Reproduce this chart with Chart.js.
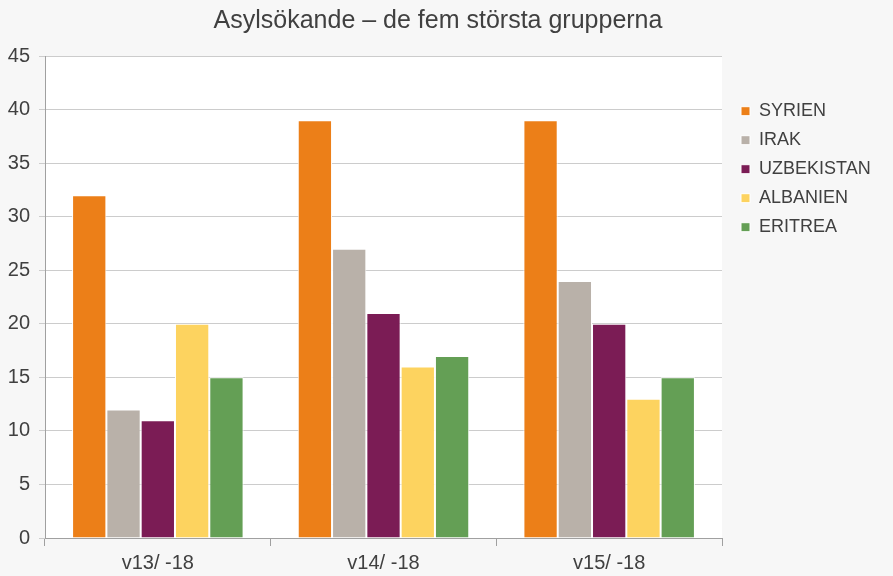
<!DOCTYPE html>
<html>
<head>
<meta charset="utf-8">
<script src="https://cdn.jsdelivr.net/npm/chart.js@4/dist/chart.umd.min.js"></script>
<style>
  html, body { margin: 0; padding: 0; background: #f7f7f7; }
  #wrap { width: 893px; height: 576px; }
</style>
</head>
<body>
<div id="wrap"><canvas id="chart" width="893" height="576"></canvas></div>
<script>
const categories = ['v13/ -18', 'v14/ -18', 'v15/ -18'];
const seriesNames = ['SYRIEN', 'IRAK', 'UZBEKISTAN', 'ALBANIEN', 'ERITREA'];
const syrien = [32, 39, 39];
const irak = [12, 27, 24];
const uzbekistan = [11, 21, 20];
const albanien = [20, 16, 13];
const eritrea = [15, 17, 15];
const colors = ['#EC7F18', '#B9B1A9', '#7B1C55', '#FDD35F', '#649F55'];

// white plot area on grey page
const plotBg = {
  id: 'plotBg',
  beforeDraw(chart) {
    const { ctx, chartArea: a } = chart;
    ctx.save();
    ctx.fillStyle = '#f7f7f7';
    ctx.fillRect(0, 0, chart.width, chart.height);
    ctx.fillStyle = '#ffffff';
    ctx.fillRect(a.left, a.top, a.right - a.left, a.bottom - a.top);
    ctx.restore();
  }
};

const values = [syrien, irak, uzbekistan, albanien, eritrea];

new Chart(document.getElementById('chart'), {
  type: 'bar',
  data: {
    labels: categories,
    datasets: seriesNames.map((name, i) => ({
      label: name,
      data: values[i],
      backgroundColor: colors[i],
      borderColor: '#ffffff',
      borderWidth: 1,
      categoryPercentage: 0.76,
      barPercentage: 1
    }))
  },
  plugins: [plotBg],
  options: {
    responsive: false,
    animation: false,
    layout: { padding: { left: 0, right: 17, top: 0, bottom: 0 } },
    plugins: {
      title: {
        display: true,
        text: 'Asylsökande – de fem största grupperna',
        color: '#404040',
        font: { family: 'Liberation Sans', size: 25, weight: 'normal' },
        padding: { top: 6, bottom: 20 }
      },
      legend: {
        position: 'right',
        align: 'start',
        title: { display: true, text: ' ', padding: { top: 59, bottom: 13 }, font: { size: 16 } },
        labels: {
          boxWidth: 9,
          boxHeight: 9,
          padding: 11,
          color: '#404040',
          font: { family: 'Liberation Sans', size: 18 }
        }
      },
      tooltip: { enabled: false }
    },
    scales: {
      x: {
        grid: { display: true, drawOnChartArea: false, offset: true, tickLength: 8, color: '#a0a0a0' },
        border: { color: '#a0a0a0' },
        ticks: { color: '#404040', font: { family: 'Liberation Sans', size: 20 }, padding: 5 },
        afterFit(scale) { scale.height = 38; }
      },
      y: {
        min: 0,
        max: 45,
        ticks: { stepSize: 5, color: '#404040', font: { family: 'Liberation Sans', size: 20 }, padding: 9 },
        grid: { color: '#cccccc', tickLength: 6 },
        border: { color: '#a0a0a0' },
        afterFit(scale) { scale.width = 45; }
      },
      // empty spacer between plot and legend
      gap: {
        position: 'right',
        display: true,
        grid: { display: false },
        border: { display: false },
        ticks: { display: false },
        afterFit(scale) { scale.width = 8; }
      }
    }
  }
});
</script>
</body>
</html>
